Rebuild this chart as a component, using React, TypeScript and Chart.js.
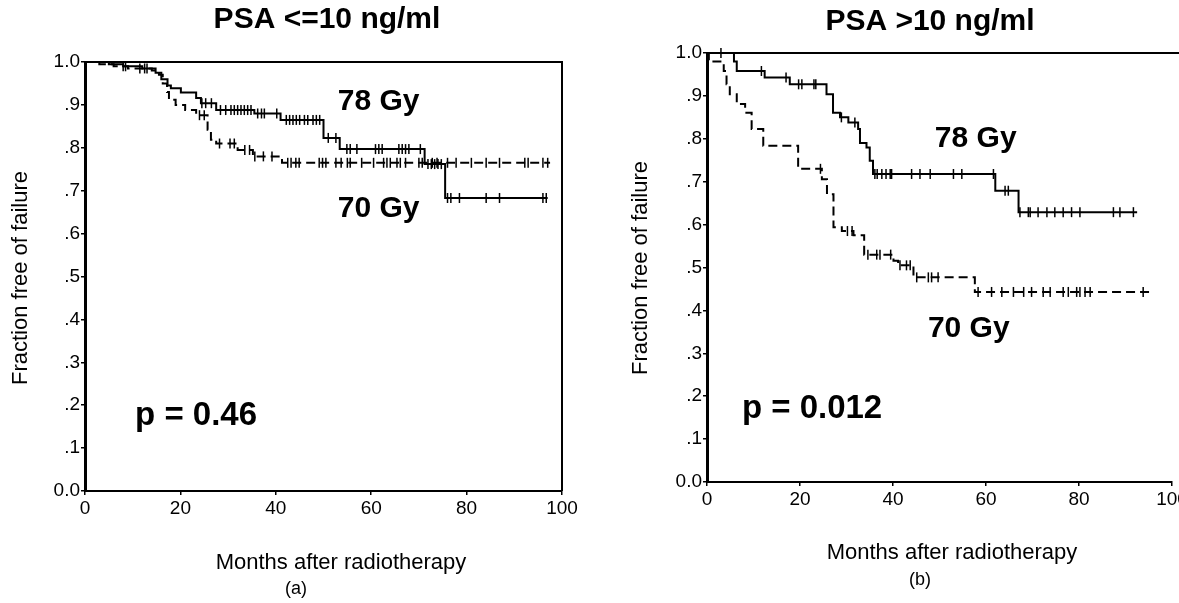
import React, { useEffect, useRef } from "react";
import { Chart, registerables } from "chart.js";

Chart.register(...registerables);

const FONT = "'Liberation Sans', Arial, Helvetica, sans-serif";

// shared axes
const xTickValues = [0, 20, 40, 60, 80, 100];
const yTickLabels = ["0.0", ".1", ".2", ".3", ".4", ".5", ".6", ".7", ".8", ".9", "1.0"];

// ---------- Panel (a): PSA <= 10 ng/ml ----------
const aTimes78 = [0, 5, 8, 12, 14.8, 16, 17.3, 18, 20.1, 23.3, 24.3, 27.5, 35.5, 41, 50, 53.4, 71.2, 75.5, 97];
const aFree78 = [1, 0.995, 0.99, 0.985, 0.975, 0.96, 0.945, 0.939, 0.929, 0.916, 0.904, 0.888, 0.88, 0.865, 0.823, 0.797, 0.762, 0.683, 0.683];
const aCensor78 = [8, 13, 24.5, 25.3, 26.5, 28.4, 29.5, 30.6, 31.3, 32, 32.7, 33.4, 34.1, 34.8, 36.2, 37, 37.6, 40.2, 42.2, 42.9, 43.6, 44.3, 45, 46, 46.7, 47.8, 48.5, 49.2, 51, 52.6, 54.9, 55.6, 57, 60.9, 61.6, 62.3, 65.8, 66.5, 67.2, 67.9, 70.3, 71.9, 72.6, 73.3, 74, 74.7, 76, 76.7, 78.5, 84.1, 86.9, 96, 96.7];

const aTimes70 = [0, 3, 6, 9, 14, 15.5, 16.3, 17.2, 17.6, 19, 21, 23.3, 25.7, 26.4, 27.5, 32, 35.2, 41.3, 97.5];
const aFree70 = [1, 0.995, 0.99, 0.985, 0.98, 0.97, 0.95, 0.93, 0.912, 0.9, 0.888, 0.876, 0.842, 0.819, 0.81, 0.795, 0.78, 0.765, 0.765];
const aCensor70 = [8.5, 11.5, 12.5, 24, 25, 28.2, 30.4, 31.3, 33.5, 34.5, 35.6, 37.4, 39.2, 42.5, 43.2, 44.2, 44.9, 49.1, 49.8, 50.5, 52.6, 53.7, 55, 55.6, 58, 60.5, 62.6, 63.3, 64, 65.4, 66.1, 67.2, 70, 70.7, 72.8, 73.8, 76, 77.8, 81, 84.1, 86.9, 92.2, 92.9, 96, 97];

// ---------- Panel (b): PSA > 10 ng/ml ----------
const bTimes78 = [0, 5.8, 6.4, 12.4, 17.8, 25.7, 27.1, 28.6, 30.4, 32.5, 32.9, 34.3, 35, 35.7, 62, 67, 92.5];
const bFree78 = [1, 0.98, 0.958, 0.943, 0.927, 0.904, 0.861, 0.85, 0.838, 0.823, 0.79, 0.78, 0.749, 0.718, 0.679, 0.629, 0.629];
const bCensor78 = [3, 11.7, 17, 19.7, 20.4, 23, 23.4, 28.9, 31.8, 36.1, 36.6, 37.6, 38.5, 39.4, 39.7, 44, 45.8, 48, 53, 54.8, 61.6, 64.1, 64.8, 67.3, 69.1, 69.5, 71.2, 73.1, 74.8, 76.6, 78.4, 80.2, 87.4, 88.8, 91.7];

const bTimes70 = [0, 0.4, 3.6, 4.2, 4.9, 6.4, 8.2, 9.6, 12.1, 19.6, 24.7, 25.8, 27.2, 29, 31.5, 33.8, 40.1, 41.1, 44.4, 57.6, 95.6];
const bFree70 = [1, 0.98, 0.958, 0.927, 0.904, 0.881, 0.861, 0.823, 0.784, 0.73, 0.706, 0.671, 0.594, 0.585, 0.575, 0.53, 0.516, 0.505, 0.477, 0.443, 0.443];
const bCensor70 = [24.4, 30.2, 31.2, 34.6, 36.5, 37.2, 39.5, 41.5, 42.9, 43.7, 45.1, 47.6, 48.3, 49.7, 58.3, 61.2, 63.4, 65.9, 68.1, 69.8, 72.3, 73.8, 76.6, 77.7, 79.5, 80.2, 81.3, 82.4, 93.8];

type Curve = { times: number[]; free: number[]; censor: number[]; dashed: boolean };
type Label = { text: string; m: number; v: number; size: number };
type Spec = {
  left: number;
  width: number;
  height: number;
  rightFrame: boolean;
  area: { l: number; r: number; t: number; b: number };
  title: { text: string; x: number; y: number };
  yTitle: { x: number; y: number };
  xTitle: { x: number; y: number };
  sub: { text: string; x: number; y: number };
  labels: Label[];
  curves: Curve[];
};

function stepValue(times: number[], values: number[], t: number): number {
  let v = values[0];
  for (let i = 0; i < times.length; i++) if (times[i] <= t) v = values[i];
  return v;
}

const panelA: Spec = {
  left: 0,
  width: 600,
  height: 603,
  rightFrame: true,
  area: { l: 85, r: 562, t: 62, b: 491 },
  title: { text: "PSA <=10 ng/ml", x: 327, y: 20 },
  yTitle: { x: 21, y: 278 },
  xTitle: { x: 341, y: 563 },
  sub: { text: "(a)", x: 296, y: 589 },
  labels: [
    { text: "78 Gy", m: 53, v: 0.907, size: 30 },
    { text: "70 Gy", m: 53, v: 0.659, size: 30 },
    { text: "p = 0.46", m: 10.5, v: 0.176, size: 33 },
  ],
  curves: [
    { times: aTimes78, free: aFree78, censor: aCensor78, dashed: false },
    { times: aTimes70, free: aFree70, censor: aCensor70, dashed: true },
  ],
};

const panelB: Spec = {
  left: 600,
  width: 640,
  height: 603,
  rightFrame: false,
  area: { l: 107, r: 572, t: 53, b: 482 },
  title: { text: "PSA >10 ng/ml", x: 330, y: 22 },
  yTitle: { x: 41, y: 268 },
  xTitle: { x: 352, y: 553 },
  sub: { text: "(b)", x: 320, y: 580 },
  labels: [
    { text: "78 Gy", m: 49, v: 0.8, size: 30 },
    { text: "70 Gy", m: 47.5, v: 0.358, size: 30 },
    { text: "p = 0.012", m: 7.5, v: 0.17, size: 33 },
  ],
  curves: [
    { times: bTimes78, free: bFree78, censor: bCensor78, dashed: false },
    { times: bTimes70, free: bFree70, censor: bCensor70, dashed: true },
  ],
};

const textPlugin = {
  id: "panelText",
  afterDraw(chart: any, _args: any, opts: any) {
    const spec: Spec = opts.spec;
    const { ctx, chartArea, scales } = chart;
    ctx.save();
    // frame: top line (and right line for panel a)
    ctx.strokeStyle = "#000";
    ctx.lineWidth = 2;
    ctx.beginPath();
    ctx.moveTo(chartArea.left, chartArea.top);
    if (spec.rightFrame) {
      ctx.lineTo(chartArea.right, chartArea.top);
      ctx.lineTo(chartArea.right, chartArea.bottom);
    } else {
      ctx.lineTo(chart.width, chartArea.top);
    }
    ctx.stroke();

    ctx.fillStyle = "#000";
    // title
    ctx.font = `bold 30px ${FONT}`;
    ctx.textAlign = "center";
    ctx.textBaseline = "middle";
    ctx.fillText(spec.title.text, spec.title.x, spec.title.y);

    // axis titles
    ctx.font = `22px ${FONT}`;
    ctx.fillText("Months after radiotherapy", spec.xTitle.x, spec.xTitle.y);
    ctx.font = `18px ${FONT}`;
    ctx.fillText(spec.sub.text, spec.sub.x, spec.sub.y);
    ctx.save();
    ctx.translate(spec.yTitle.x, spec.yTitle.y);
    ctx.rotate(-Math.PI / 2);
    ctx.font = `22px ${FONT}`;
    ctx.fillText("Fraction free of failure", 0, 0);
    ctx.restore();

    // in-plot labels
    ctx.textAlign = "left";
    for (const lb of spec.labels) {
      ctx.font = `bold ${lb.size}px ${FONT}`;
      ctx.fillText(lb.text, scales.x.getPixelForValue(lb.m), scales.y.getPixelForValue(lb.v));
    }
    ctx.restore();
  },
};

function buildConfig(spec: Spec): any {
  const datasets: any[] = [];
  spec.curves.forEach((c) => {
    datasets.push({
      data: c.times.map((t, i) => ({ x: t, y: c.free[i] })),
      stepped: "before",
      borderColor: "#000",
      borderWidth: 2,
      borderDash: c.dashed ? [9, 5] : [],
      pointRadius: 0,
      fill: false,
      clip: 4,
    });
    datasets.push({
      data: c.censor.map((t) => ({ x: t, y: stepValue(c.times, c.free, t) })),
      showLine: false,
      pointStyle: "line",
      pointRotation: 90,
      pointRadius: 5,
      pointBorderWidth: 1.5,
      pointBorderColor: "#000",
      pointBackgroundColor: "#000",
      borderColor: "#000",
      clip: false,
    });
  });
  return {
    type: "line",
    data: { datasets },
    plugins: [textPlugin],
    options: {
      animation: false,
      responsive: false,
      devicePixelRatio: 1,
      layout: {
        padding: { top: spec.area.t, right: spec.width - spec.area.r, left: 0, bottom: 0 },
      },
      plugins: {
        legend: { display: false },
        tooltip: { enabled: false },
        title: { display: false },
        panelText: { spec },
      },
      scales: {
        x: {
          type: "linear",
          min: 0,
          max: 100,
          afterFit: (s: any) => {
            s.height = spec.height - spec.area.b;
          },
          afterBuildTicks: (s: any) => {
            s.ticks = xTickValues.map((v) => ({ value: v }));
          },
          ticks: {
            color: "#000",
            font: { family: FONT, size: 19 },
            padding: 2,
            maxRotation: 0,
            autoSkip: false,
          },
          grid: { display: true, drawOnChartArea: false, drawTicks: true, tickLength: 4, color: "#000", lineWidth: 1.5 },
          border: { display: true, color: "#000", width: 2 },
        },
        y: {
          type: "linear",
          min: 0,
          max: 1,
          afterFit: (s: any) => {
            s.width = spec.area.l;
          },
          afterBuildTicks: (s: any) => {
            s.ticks = yTickLabels.map((_, i) => ({ value: i / 10 }));
          },
          ticks: {
            color: "#000",
            font: { family: FONT, size: 19 },
            padding: 1,
            autoSkip: false,
            callback: (v: number) => yTickLabels[Math.round(v * 10)],
          },
          grid: { display: true, drawOnChartArea: false, drawTicks: true, tickLength: 4, color: "#000", lineWidth: 1.5 },
          border: { display: true, color: "#000", width: 3 },
        },
      },
    },
  };
}

function Panel({ spec }: { spec: Spec }) {
  const ref = useRef<HTMLCanvasElement>(null);
  useEffect(() => {
    const canvas = ref.current;
    if (!canvas) return;
    const chart = new Chart(canvas, buildConfig(spec));
    return () => chart.destroy();
  }, [spec]);
  return (
    <canvas
      ref={ref}
      width={spec.width}
      height={spec.height}
      style={{ position: "absolute", left: spec.left, top: 0, width: spec.width, height: spec.height }}
    />
  );
}

export default function App() {
  return (
    <div
      style={{
        position: "fixed",
        left: 0,
        top: 0,
        width: 1179,
        height: 603,
        overflow: "hidden",
        background: "#fff",
      }}
    >
      <Panel spec={panelA} />
      <Panel spec={panelB} />
    </div>
  );
}
